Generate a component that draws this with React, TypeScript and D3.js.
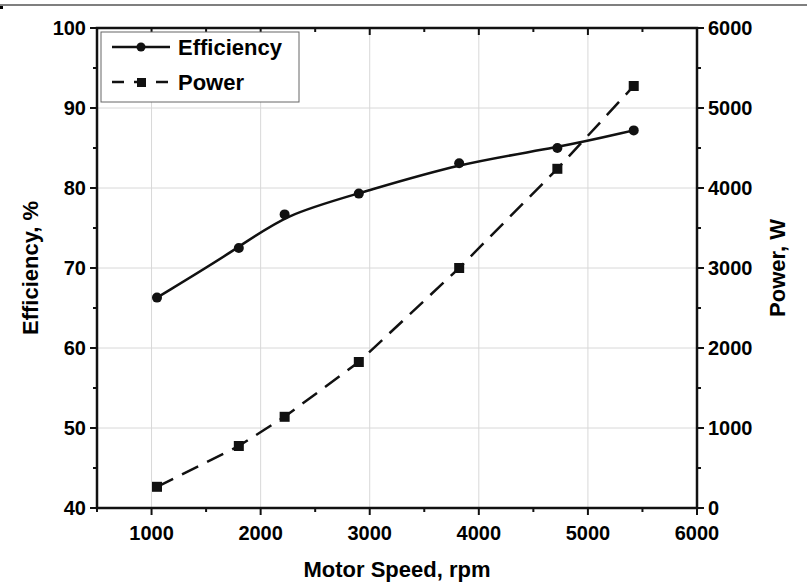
import React from "react";
import * as d3 from "d3";

const speed = [1050, 1800, 2220, 2900, 3820, 4720, 5420];
const efficiency = [66.3, 72.5, 76.7, 79.3, 83.1, 85.0, 87.2];
const power = [265, 775, 1140, 1825, 3000, 4240, 5275];
const xTicks = [1000, 2000, 3000, 4000, 5000, 6000];
const effTicks = [40, 50, 60, 70, 80, 90, 100];
const powTicks = [0, 1000, 2000, 3000, 4000, 5000, 6000];

export default function App() {
  const L = 97, R = 697, T = 28, B = 508;
  const x = d3.scaleLinear().domain([500, 6000]).range([L, R]);
  const yE = d3.scaleLinear().domain([40, 100]).range([B, T]);
  const yP = d3.scaleLinear().domain([0, 6000]).range([B, T]);
  const effLine = d3.line<number>().x((_, i) => x(speed[i])).y(d => yE(d)).curve(d3.curveBasis)(efficiency)!;
  const powLine = d3.line<number>().x((_, i) => x(speed[i])).y(d => yP(d))(power)!;
  const font = "Liberation Sans, Arial, sans-serif";
  const minorX = d3.range(500, 6001, 500);
  const minorY = d3.range(40, 101, 5);
  return (
    <svg width={807} height={583} style={{ position: "absolute", left: 0, top: 0, background: "#fff" }} fontFamily={font}>
      <line x1={0} x2={807} y1={5} y2={5} stroke="#555" strokeWidth={1.5} />
      <rect x={0} y={6} width={3} height={3} fill="#000" />
      {xTicks.map(t => <line key={"gx" + t} x1={x(t)} x2={x(t)} y1={T} y2={B} stroke="#d8d8d8" />)}
      {effTicks.map(t => <line key={"gy" + t} x1={L} x2={R} y1={yE(t)} y2={yE(t)} stroke="#d8d8d8" />)}
      <rect x={L} y={T} width={R - L} height={B - T} fill="none" stroke="#111" strokeWidth={2.5} />
      {minorX.map(t => {
        const major = t % 1000 === 0;
        const len = major ? 7 : 4;
        return <g key={"tx" + t}>
          <line x1={x(t)} x2={x(t)} y1={B} y2={B + len} stroke="#111" strokeWidth={2} />
          <line x1={x(t)} x2={x(t)} y1={T} y2={T + len} stroke="#111" strokeWidth={2} />
        </g>;
      })}
      {minorY.map(t => {
        const major = t % 10 === 0;
        const len = major ? 7 : 4;
        return <g key={"ty" + t}>
          <line x1={L - len} x2={L} y1={yE(t)} y2={yE(t)} stroke="#111" strokeWidth={2} />
          <line x1={R} x2={R + len} y1={yE(t)} y2={yE(t)} stroke="#111" strokeWidth={2} />
        </g>;
      })}
      {xTicks.map(t => <text key={"lx" + t} x={x(t)} y={B + 32} textAnchor="middle" fontSize={20} fontWeight="bold">{t}</text>)}
      {effTicks.map(t => <text key={"le" + t} x={L - 11} y={yE(t) + 7} textAnchor="end" fontSize={20} fontWeight="bold">{t}</text>)}
      {powTicks.map(t => <text key={"lp" + t} x={R + 11} y={yP(t) + 7} textAnchor="start" fontSize={20} fontWeight="bold">{t}</text>)}
      <text x={(L + R) / 2} y={577} textAnchor="middle" fontSize={22} fontWeight="bold">Motor Speed, rpm</text>
      <text transform={`translate(38,${(T + B) / 2}) rotate(-90)`} textAnchor="middle" fontSize={22} fontWeight="bold">Efficiency, %</text>
      <text transform={`translate(785,${(T + B) / 2}) rotate(-90)`} textAnchor="middle" fontSize={22} fontWeight="bold">Power, W</text>
      <path d={effLine} fill="none" stroke="#111" strokeWidth={2.5} />
      <path d={powLine} fill="none" stroke="#111" strokeWidth={2.5} strokeDasharray="18,10" />
      {speed.map((s, i) => <circle key={"c" + i} cx={x(s)} cy={yE(efficiency[i])} r={5} fill="#111" />)}
      {speed.map((s, i) => <rect key={"s" + i} x={x(s) - 5} y={yP(power[i]) - 5} width={10} height={10} fill="#111" />)}
      <rect x={L + 4} y={T + 4} width={198} height={70} fill="#fff" stroke="#666" strokeWidth={1} />
      <line x1={112} x2={170} y1={47} y2={47} stroke="#111" strokeWidth={2.5} />
      <circle cx={141} cy={47} r={4.5} fill="#111" />
      <text x={178} y={55} fontSize={22} fontWeight="bold">Efficiency</text>
      <line x1={112} x2={170} y1={82} y2={82} stroke="#111" strokeWidth={2.5} strokeDasharray="12,10" />
      <rect x={137} y={78} width={9} height={9} fill="#111" />
      <text x={178} y={90} fontSize={22} fontWeight="bold">Power</text>
    </svg>
  );
}
